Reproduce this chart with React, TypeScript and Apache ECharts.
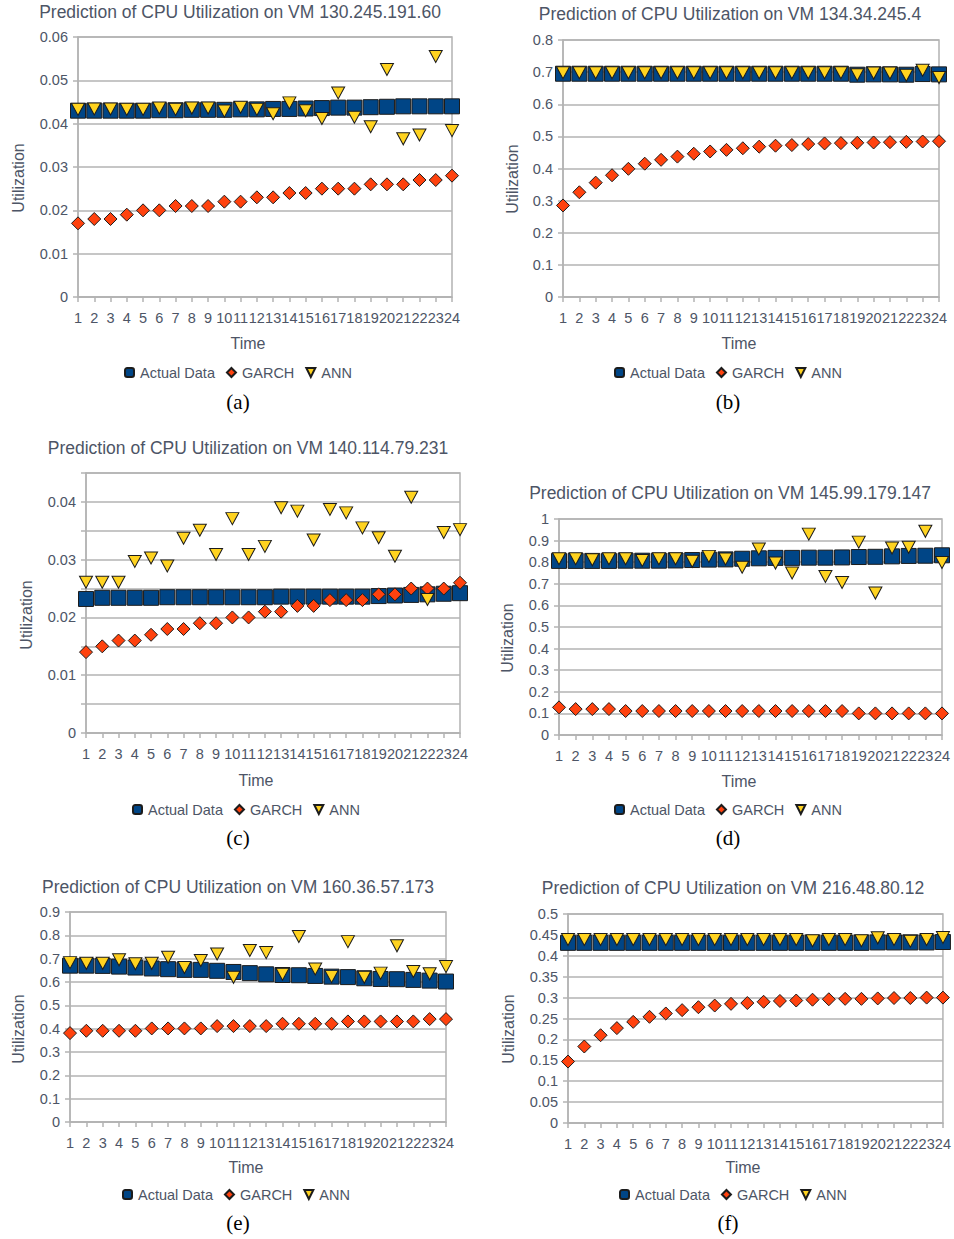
import React, { useEffect, useRef } from "react";
import * as echarts from "echarts";

// ---------- data ----------
const TIME = ["1","2","3","4","5","6","7","8","9","10","11","12","13","14","15","16","17","18","19","20","21","22","23","24"];
const SERIES_NAMES = ["Actual Data", "GARCH", "ANN"];
const TITLES = [
  "Prediction of CPU Utilization on VM 130.245.191.60",
  "Prediction of CPU Utilization on VM 134.34.245.4",
  "Prediction of CPU Utilization on VM 140.114.79.231",
  "Prediction of CPU Utilization on VM 145.99.179.147",
  "Prediction of CPU Utilization on VM 160.36.57.173",
  "Prediction of CPU Utilization on VM 216.48.80.12",
];
const SUB_LABELS = ["(a)", "(b)", "(c)", "(d)", "(e)", "(f)"];

const A_ACTUAL = [0.043,0.043,0.043,0.043,0.043,0.0431,0.0431,0.0432,0.0432,0.0432,0.0433,0.0433,0.0434,0.0434,0.0435,0.0436,0.0437,0.0437,0.0438,0.0439,0.044,0.044,0.044,0.044];
const A_GARCH = [0.017,0.018,0.018,0.019,0.020,0.020,0.021,0.021,0.021,0.022,0.022,0.023,0.023,0.024,0.024,0.025,0.025,0.025,0.026,0.026,0.026,0.027,0.027,0.028];
const A_ANN = [0.0433,0.0434,0.0434,0.0433,0.0433,0.0436,0.0433,0.0436,0.0436,0.0429,0.0438,0.0433,0.0423,0.0448,0.0430,0.0412,0.0471,0.0415,0.0393,0.0525,0.0365,0.0374,0.0555,0.0384];

const B_ACTUAL = [0.695,0.695,0.695,0.695,0.695,0.695,0.695,0.695,0.695,0.695,0.695,0.695,0.695,0.695,0.695,0.695,0.695,0.695,0.692,0.693,0.693,0.692,0.694,0.693];
const B_GARCH = [0.285,0.326,0.356,0.379,0.399,0.415,0.427,0.437,0.446,0.453,0.458,0.463,0.468,0.471,0.473,0.476,0.478,0.479,0.480,0.481,0.482,0.483,0.484,0.485];
const B_ANN = [0.698,0.698,0.698,0.698,0.698,0.698,0.698,0.698,0.698,0.698,0.698,0.698,0.698,0.698,0.698,0.698,0.698,0.698,0.692,0.697,0.697,0.690,0.706,0.683];

const C_ACTUAL = [0.0232,0.0234,0.0234,0.0234,0.0234,0.0235,0.0235,0.0235,0.0235,0.0235,0.0235,0.0235,0.0236,0.0236,0.0236,0.0236,0.0236,0.0236,0.0237,0.0238,0.0239,0.024,0.0241,0.0242];
const C_GARCH = [0.014,0.015,0.016,0.016,0.017,0.018,0.018,0.019,0.019,0.020,0.020,0.021,0.021,0.022,0.022,0.023,0.023,0.023,0.024,0.024,0.025,0.025,0.025,0.026];
const C_ANN = [0.0261,0.0261,0.0261,0.0297,0.0303,0.0289,0.0337,0.0351,0.0309,0.0371,0.0309,0.0323,0.0390,0.0384,0.0334,0.0387,0.0381,0.0355,0.0338,0.0306,0.0408,0.0231,0.0347,0.0352];

const D_ACTUAL = [0.806,0.806,0.806,0.806,0.807,0.807,0.807,0.808,0.810,0.812,0.813,0.816,0.818,0.820,0.820,0.821,0.821,0.822,0.824,0.825,0.827,0.829,0.830,0.832];
const D_GARCH = [0.128,0.120,0.120,0.120,0.111,0.111,0.111,0.111,0.111,0.111,0.111,0.111,0.111,0.111,0.111,0.111,0.111,0.111,0.100,0.100,0.100,0.100,0.100,0.100];
const D_ANN = [0.816,0.816,0.811,0.816,0.816,0.808,0.816,0.816,0.804,0.827,0.815,0.777,0.861,0.796,0.750,0.930,0.734,0.706,0.893,0.657,0.866,0.869,0.943,0.799];

const E_ACTUAL = [0.670,0.670,0.669,0.666,0.662,0.658,0.655,0.652,0.652,0.648,0.643,0.638,0.633,0.630,0.629,0.626,0.623,0.621,0.616,0.613,0.612,0.609,0.606,0.602];
const E_GARCH = [0.381,0.391,0.391,0.391,0.391,0.401,0.401,0.401,0.401,0.411,0.411,0.411,0.411,0.421,0.421,0.421,0.421,0.431,0.431,0.431,0.431,0.431,0.441,0.441];
const E_ANN = [0.683,0.680,0.680,0.695,0.678,0.680,0.706,0.662,0.692,0.720,0.620,0.735,0.726,0.633,0.795,0.656,0.623,0.773,0.620,0.638,0.755,0.645,0.635,0.666];

const F_ACTUAL = [0.431,0.431,0.431,0.431,0.431,0.431,0.431,0.431,0.431,0.431,0.431,0.431,0.431,0.431,0.431,0.431,0.431,0.431,0.431,0.432,0.432,0.432,0.432,0.433];
const F_GARCH = [0.147,0.183,0.210,0.227,0.242,0.254,0.262,0.270,0.277,0.281,0.285,0.287,0.290,0.292,0.293,0.295,0.296,0.297,0.297,0.298,0.299,0.299,0.300,0.300];
const F_ANN = [0.439,0.439,0.439,0.439,0.439,0.439,0.439,0.439,0.439,0.439,0.439,0.439,0.439,0.439,0.439,0.436,0.439,0.439,0.436,0.443,0.439,0.435,0.439,0.444];

const Y_MIN = [0, 0, 0, 0, 0, 0];
const Y_MAX = [0.06, 0.8, 0.045, 1, 0.9, 0.5];
const Y_STEP = [0.01, 0.1, 0.005, 0.1, 0.1, 0.05];

const PANEL_DATA = [
  [A_ACTUAL, A_GARCH, A_ANN],
  [B_ACTUAL, B_GARCH, B_ANN],
  [C_ACTUAL, C_GARCH, C_ANN],
  [D_ACTUAL, D_GARCH, D_ANN],
  [E_ACTUAL, E_GARCH, E_ANN],
  [F_ACTUAL, F_GARCH, F_ANN],
];

// ---------- layout & style ----------
const LAYOUT = [
  { x0: 78, x1: 452, y0: 37, y1: 297, tx: 240, ty: 12, timeX: 248, timeY: 343, ux: 18, uy: 178, lx: 239, ly: 374, sx: 238, sy: 402 },
  { x0: 563, x1: 939, y0: 40, y1: 297, tx: 730, ty: 14, timeX: 739, timeY: 343, ux: 512, uy: 179, lx: 729, ly: 374, sx: 728, sy: 402 },
  { x0: 86, x1: 460, y0: 473, y1: 733, tx: 248, ty: 448, timeX: 256, timeY: 780, ux: 26, uy: 615, lx: 247, ly: 811, sx: 238, sy: 838 },
  { x0: 559, x1: 942, y0: 519, y1: 735, tx: 730, ty: 493, timeX: 739, timeY: 781, ux: 507, uy: 638, lx: 729, ly: 811, sx: 728, sy: 838 },
  { x0: 70, x1: 446, y0: 912, y1: 1122, tx: 238, ty: 887, timeX: 246, timeY: 1167, ux: 18, uy: 1029, lx: 237, ly: 1196, sx: 238, sy: 1223 },
  { x0: 568, x1: 949, y0: 914, y1: 1123, tx: 733, ty: 888, timeX: 743, timeY: 1167, ux: 508, uy: 1029, lx: 734, ly: 1196, sx: 728, sy: 1223 },
];

const FONT = "'Liberation Sans', Arial, sans-serif";
const SERIF = "'Liberation Serif', 'Times New Roman', serif";
const TXT = "#4d5566";
const GRID = "#b3b3b3";
const BORDER = "#1c1c1c";
const COLORS = ["#004586", "#ff420e", "#ffd320"];
const SYMBOLS = ["rect", "diamond", "triangle"];
const SIZES: any[] = [[15, 15], [13, 13], [13, 12]];
const ROTATE = [0, 0, 180];
const LEGEND_ICONS = ["roundRect", "diamond", "path://M0,0L10,0L5,10Z"];

function buildOption() {
  const grid: any[] = [];
  const xAxis: any[] = [];
  const yAxis: any[] = [];
  const series: any[] = [];
  const legend: any[] = [];
  const graphic: any[] = [];

  LAYOUT.forEach((l, i) => {
    grid.push({
      left: l.x0, top: l.y0, width: l.x1 - l.x0, height: l.y1 - l.y0,
      show: true, borderColor: GRID, borderWidth: 1.5, backgroundColor: "transparent",
    });
    xAxis.push({
      gridIndex: i, type: "category", data: TIME, boundaryGap: false,
      axisLine: { lineStyle: { color: GRID, width: 1.5 } },
      axisTick: { show: true, length: 5, lineStyle: { color: GRID, width: 1.5 } },
      axisLabel: { interval: 0, margin: 13, fontSize: 14.5, color: TXT, fontFamily: FONT },
      splitLine: { show: false },
    });
    const step = Y_STEP[i];
    yAxis.push({
      gridIndex: i, type: "value", min: Y_MIN[i], max: Y_MAX[i], interval: step,
      axisLine: { show: true, lineStyle: { color: GRID, width: 1.5 } },
      axisTick: { show: true, length: 5, lineStyle: { color: GRID, width: 1.5 } },
      splitLine: { show: true, lineStyle: { color: GRID, width: 1.5 } },
      axisLabel: {
        margin: 10, fontSize: 14.5, color: TXT, fontFamily: FONT,
        formatter: i === 2
          ? (v: number) => (Math.round(v / 0.005) % 2 === 0 ? String(Math.round(v * 100) / 100) : "")
          : undefined,
      },
    });
    PANEL_DATA[i].forEach((vals, k) => {
      series.push({
        type: "scatter", name: SERIES_NAMES[k], xAxisIndex: i, yAxisIndex: i,
        data: vals, symbol: SYMBOLS[k], symbolSize: SIZES[k], symbolRotate: ROTATE[k],
        itemStyle: { color: COLORS[k], borderColor: BORDER, borderWidth: 1, opacity: 1 },
        z: 2 + k,
      });
    });
    legend.push({
      left: l.lx - 115, top: l.ly - 9, padding: 0, itemWidth: 9, itemHeight: 9, itemGap: 11,
      selectedMode: false,
      textStyle: { fontSize: 14.5, color: TXT, fontFamily: FONT, padding: [0, 0, 0, 1] },
      data: SERIES_NAMES.map((n, k) => ({ name: n, icon: LEGEND_ICONS[k] })),
    });
    graphic.push(
      { type: "text", x: l.tx, y: l.ty, style: { text: TITLES[i], font: `17.5px ${FONT}`, fill: TXT, textAlign: "center", textVerticalAlign: "middle" } },
      { type: "text", x: l.timeX, y: l.timeY, style: { text: "Time", font: `16px ${FONT}`, fill: TXT, textAlign: "center", textVerticalAlign: "middle" } },
      { type: "text", x: l.ux, y: l.uy, rotation: Math.PI / 2, style: { text: "Utilization", font: `16px ${FONT}`, fill: TXT, textAlign: "center", textVerticalAlign: "middle" } },
      { type: "text", x: l.sx, y: l.sy, style: { text: SUB_LABELS[i], font: `21px ${SERIF}`, fill: "#000", textAlign: "center", textVerticalAlign: "middle" } },
    );
  });

  return { animation: false, backgroundColor: "#fff", grid, xAxis, yAxis, series, legend, graphic };
}

export default function App() {
  const ref = useRef<HTMLDivElement>(null);
  useEffect(() => {
    const chart = echarts.init(ref.current!, null, { renderer: "svg" });
    chart.setOption(buildOption() as any);
    return () => chart.dispose();
  }, []);
  return <div ref={ref} style={{ position: "absolute", left: 0, top: 0, width: 954, height: 1239 }} />;
}
